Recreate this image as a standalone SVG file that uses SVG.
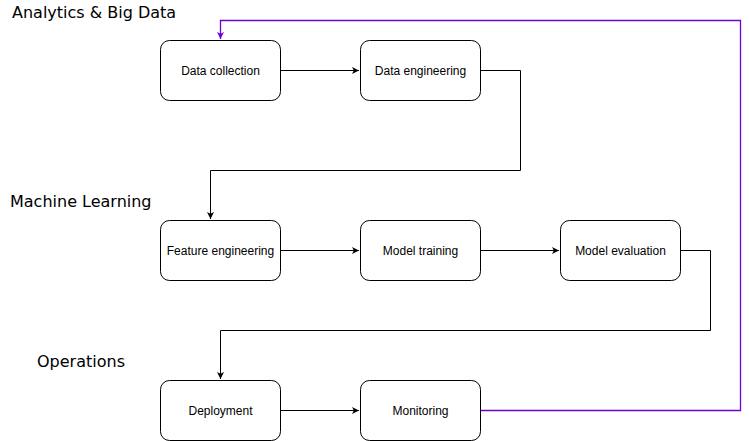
<svg xmlns="http://www.w3.org/2000/svg" width="749" height="441" viewBox="0 0 749 441">
<style>
.box{fill:#fff;stroke:#000;stroke-width:1}
.lbl{font-family:"Liberation Sans",Arial,sans-serif;font-size:12px;text-anchor:middle;dominant-baseline:central;fill:#000}
.sec{font-family:"DejaVu Sans",Verdana,sans-serif;font-size:16px;fill:#000}
.c{fill:none;stroke:#000;stroke-width:1}
.p{fill:none;stroke:#7000D8;stroke-width:1.3}
</style>
<defs>
<marker id="a" markerWidth="8" markerHeight="8" refX="7" refY="4" orient="auto" markerUnits="userSpaceOnUse"><path d="M0,0.5 L7,4 L0,7.5 L1.8,4 Z" fill="#000"/></marker>
<marker id="ap" markerWidth="8" markerHeight="8" refX="7" refY="4" orient="auto" markerUnits="userSpaceOnUse"><path d="M0,0.5 L7,4 L0,7.5 L1.8,4 Z" fill="#7000D8"/></marker>
</defs>
<rect width="749" height="441" fill="#fff"/>
<text class="sec" x="12" y="18">Analytics &amp; Big Data</text>
<text class="sec" x="10" y="207">Machine Learning</text>
<text class="sec" x="37" y="367">Operations</text>
<g id="connectors">
<path class="c" d="M280.5,70.5 H359" marker-end="url(#a)"/>
<path class="c" d="M480.5,70.5 H520.5 V170.5 H210.5 V219" marker-end="url(#a)"/>
<path class="c" d="M280.5,250.5 H359" marker-end="url(#a)"/>
<path class="c" d="M480.5,250.5 H559" marker-end="url(#a)"/>
<path class="c" d="M680.5,250.5 H710.5 V330.5 H220.5 V379" marker-end="url(#a)"/>
<path class="c" d="M280.5,410.5 H359" marker-end="url(#a)"/>
<path class="p" d="M480.5,410.5 H740.5 V20.5 H220.5 V39" marker-end="url(#ap)"/>
</g>
<g id="n1"><rect class="box" x="160.5" y="40.5" width="120" height="60" rx="9"/><text class="lbl" x="220.5" y="70.5">Data collection</text></g>
<g id="n2"><rect class="box" x="360.5" y="40.5" width="120" height="60" rx="9"/><text class="lbl" x="420.5" y="70.5">Data engineering</text></g>
<g id="n3"><rect class="box" x="160.5" y="220.5" width="120" height="60" rx="9"/><text class="lbl" x="220.5" y="250.5">Feature engineering</text></g>
<g id="n4"><rect class="box" x="360.5" y="220.5" width="120" height="60" rx="9"/><text class="lbl" x="420.5" y="250.5">Model training</text></g>
<g id="n5"><rect class="box" x="560.5" y="220.5" width="120" height="60" rx="9"/><text class="lbl" x="620.5" y="250.5">Model evaluation</text></g>
<g id="n6"><rect class="box" x="160.5" y="380.5" width="120" height="60" rx="9"/><text class="lbl" x="220.5" y="410.5">Deployment</text></g>
<g id="n7"><rect class="box" x="360.5" y="380.5" width="120" height="60" rx="9"/><text class="lbl" x="420.5" y="410.5">Monitoring</text></g>
</svg>
